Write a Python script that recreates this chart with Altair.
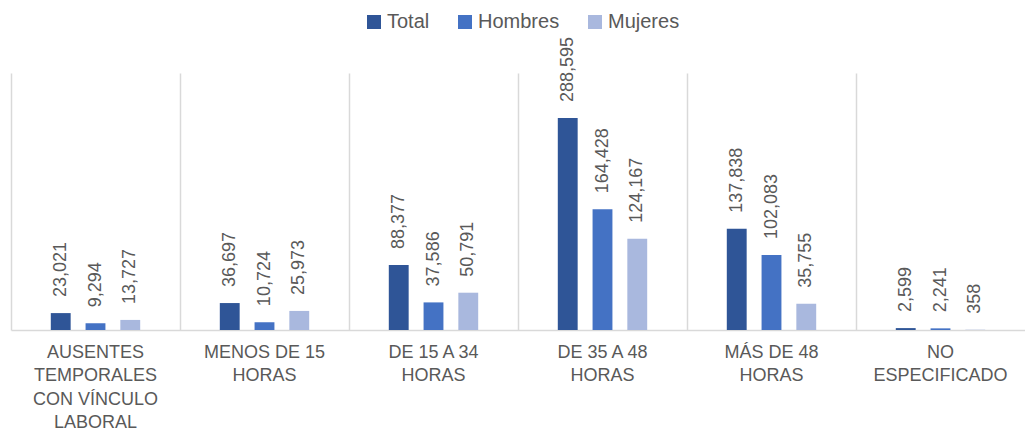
import json
import altair as alt
import pandas as pd

categories = [
    "AUSENTES TEMPORALES CON VÍNCULO LABORAL",
    "MENOS DE 15 HORAS",
    "DE 15 A 34 HORAS",
    "DE 35 A 48 HORAS",
    "MÁS DE 48 HORAS",
    "NO ESPECIFICADO",
]
category_lines = [
    ["AUSENTES", "TEMPORALES", "CON VÍNCULO", "LABORAL"],
    ["MENOS DE 15", "HORAS"],
    ["DE 15 A 34", "HORAS"],
    ["DE 35 A 48", "HORAS"],
    ["MÁS DE 48", "HORAS"],
    ["NO", "ESPECIFICADO"],
]
series = ["Total", "Hombres", "Mujeres"]
total = [23021, 36697, 88377, 288595, 137838, 2599]
hombres = [9294, 10724, 37586, 164428, 102083, 2241]
mujeres = [13727, 25973, 50791, 124167, 35755, 358]
colors = ["#2F5597", "#4472C4", "#A9B8DE"]

rows = []
for i, c in enumerate(categories):
    for s, vals in zip(series, [total, hombres, mujeres]):
        rows.append({"cat": c, "serie": s, "valor": vals[i]})
df = pd.DataFrame(rows)

expr = "datum.label"
for c, lines in reversed(list(zip(categories, category_lines))):
    expr = f"datum.label == {json.dumps(c, ensure_ascii=False)} ? {json.dumps(lines, ensure_ascii=False)} : ({expr})"

FONT = "Liberation Sans"
GRAY = "#595959"

base = alt.Chart(df).encode(
    x=alt.X(
        "cat:N",
        sort=categories,
        scale=alt.Scale(paddingInner=0, paddingOuter=0),
        axis=alt.Axis(
            title=None,
            labelAngle=0,
            labelExpr=expr,
            labelFont=FONT,
            labelFontSize=18,
            labelColor=GRAY,
            labelLineHeight=23.5,
            labelPadding=13,
            labelLimit=0,
            ticks=False,
            domainColor="#D9D9D9",
            domainWidth=1.5,
            grid=True,
            gridColor="#D9D9D9",
            gridWidth=1.5,
            bandPosition=0,
        ),
    ),
    xOffset=alt.XOffset(
        "serie:N",
        sort=series,
        scale=alt.Scale(range=[39.8, 129.2], paddingInner=0.4286, paddingOuter=0),
    ),
    y=alt.Y("valor:Q", scale=alt.Scale(domain=[0, 350000]), axis=None),
)

bars = base.mark_bar().encode(
    color=alt.Color(
        "serie:N",
        sort=series,
        scale=alt.Scale(domain=series, range=colors),
        legend=alt.Legend(
            title=None,
            orient="none",
            direction="horizontal",
            legendX=353,
            legendY=-61,
            symbolType="square",
            symbolSize=196,
            symbolStrokeWidth=0,
            labelFont=FONT,
            labelFontSize=20,
            labelColor=GRAY,
            labelLimit=300,
            columnPadding=25,
            labelOffset=3,
        ),
    )
)

labels = base.mark_text(
    angle=270,
    align="left",
    baseline="middle",
    dx=16,
    font=FONT,
    fontSize=18,
    color=GRAY,
).encode(text=alt.Text("valor:Q", format=",.0f"))

chart = (
    alt.layer(bars, labels)
    .properties(
        width=1014,
        height=257,
        autosize=alt.AutoSizeParams(type="none"),
        padding={"left": 3, "top": 65, "right": 0, "bottom": 102},
    )
    .configure_view(stroke=None)
)

chart.save("out.html", embed_options={"renderer": "svg", "actions": False})
